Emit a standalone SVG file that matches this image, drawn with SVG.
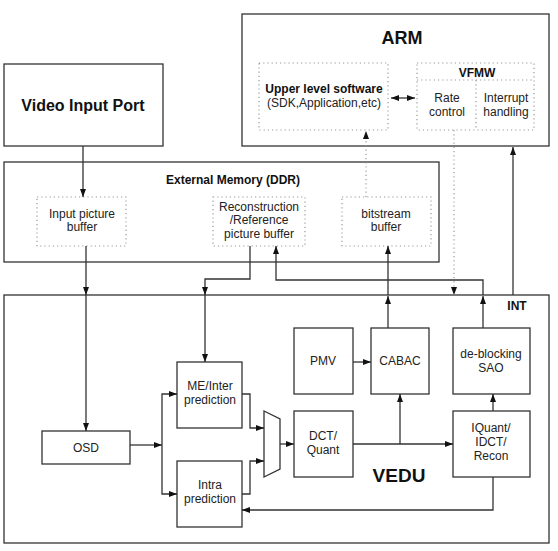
<svg xmlns="http://www.w3.org/2000/svg" width="558" height="551" viewBox="0 0 558 551">
<defs>
<marker id="ah" viewBox="0 0 8 6" refX="8" refY="3" markerWidth="8" markerHeight="6" markerUnits="userSpaceOnUse" orient="auto-start-reverse">
<path d="M0,0 L8,3 L0,6 z" fill="#111"/>
</marker>
<style>
.box{fill:#fff;stroke:#333;stroke-width:1.3}
.dot{fill:none;stroke:#999;stroke-width:1.2;stroke-dasharray:1.2 3}
.ln{fill:none;stroke:#333;stroke-width:1.3}
.dl{fill:none;stroke:#999;stroke-width:1.2;stroke-dasharray:1.2 3}
.t{font-family:"Liberation Sans",Arial,sans-serif;font-size:12px;fill:#222;text-anchor:middle}
.b{font-weight:bold;fill:#111}
</style>
</defs>
<rect width="558" height="551" fill="#fff"/>

<g id="arm">
<rect class="box" x="242" y="14" width="307" height="132"/>
<text class="t b" x="402" y="44" style="font-size:18px">ARM</text>
</g>
<g id="upper-software">
<rect class="dot" x="259" y="63" width="129" height="67"/>
<text class="t b" x="324" y="93">Upper level software</text>
<text class="t" x="324" y="107">(SDK,Application,etc)</text>
</g>
<g id="vfmw">
<rect class="dot" x="417" y="63" width="117" height="67"/>
<line class="dot" x1="417" y1="80" x2="534" y2="80"/>
<line class="dot" x1="476" y1="80" x2="476" y2="130"/>
<text class="t b" x="477" y="77">VFMW</text>
<text class="t" x="447" y="102">Rate</text>
<text class="t" x="447" y="116">control</text>
<text class="t" x="506" y="102">Interrupt</text>
<text class="t" x="506" y="116">handling</text>
</g>
<g id="video-input-port">
<rect class="box" x="4" y="64" width="159" height="82"/>
<text class="t b" x="83" y="111" style="font-size:16px">Video Input Port</text>
</g>
<g id="external-memory">
<rect class="box" x="4" y="162" width="435" height="100"/>
<text class="t b" x="233" y="184">External Memory (DDR)</text>
</g>
<g id="input-buffer">
<rect class="dot" x="37" y="197" width="89" height="49"/>
<text class="t" x="82" y="218">Input picture</text>
<text class="t" x="82" y="231">buffer</text>
</g>
<g id="recon-buffer">
<rect class="dot" x="213" y="197" width="92" height="49"/>
<text class="t" x="259" y="211">Reconstruction</text>
<text class="t" x="259" y="224">/Reference</text>
<text class="t" x="259" y="238">picture buffer</text>
</g>
<g id="bitstream-buffer">
<rect class="dot" x="342" y="197" width="89" height="49"/>
<text class="t" x="386" y="218">bitstream</text>
<text class="t" x="386" y="231">buffer</text>
</g>
<g id="vedu">
<rect class="box" x="4" y="295" width="545" height="248"/>
<text class="t b" x="399" y="482" style="font-size:19px">VEDU</text>
<text class="t b" x="517" y="310">INT</text>
</g>
<g id="osd">
<rect class="box" x="42" y="431" width="88" height="33"/>
<text class="t" x="86" y="452">OSD</text>
</g>
<g id="me-inter">
<rect class="box" x="177" y="362" width="65" height="66"/>
<text class="t" x="210" y="390">ME/Inter</text>
<text class="t" x="210" y="404">prediction</text>
</g>
<g id="intra">
<rect class="box" x="177" y="461" width="65" height="66"/>
<text class="t" x="210" y="489">Intra</text>
<text class="t" x="210" y="503">prediction</text>
</g>
<g id="mux">
<polygon class="box" points="264,411 280,419 280,469 264,477"/>
</g>
<g id="dct">
<rect class="box" x="294" y="411" width="59" height="66"/>
<text class="t" x="323" y="440">DCT/</text>
<text class="t" x="323" y="454">Quant</text>
</g>
<g id="pmv">
<rect class="box" x="294" y="328" width="59" height="66"/>
<text class="t" x="323" y="365">PMV</text>
</g>
<g id="cabac">
<rect class="box" x="371" y="328" width="58" height="66"/>
<text class="t" x="400" y="365">CABAC</text>
</g>
<g id="deblocking">
<rect class="box" x="453" y="328" width="77" height="66"/>
<text class="t" x="491" y="358">de-blocking</text>
<text class="t" x="491" y="372">SAO</text>
</g>
<g id="iquant">
<rect class="box" x="453" y="411" width="77" height="66"/>
<text class="t" x="491" y="432">IQuant/</text>
<text class="t" x="491" y="446">IDCT/</text>
<text class="t" x="491" y="460">Recon</text>
</g>

<g id="connectors">
<line class="ln" x1="391" y1="98" x2="415" y2="98" marker-start="url(#ah)" marker-end="url(#ah)"/>
<line class="dl" x1="366" y1="197" x2="366" y2="131" marker-end="url(#ah)"/>
<line class="dl" x1="454" y1="130" x2="454" y2="295" marker-end="url(#ah)"/>
<line class="ln" x1="513" y1="295" x2="513" y2="147" marker-end="url(#ah)"/>
<line class="ln" x1="83" y1="146" x2="83" y2="197" marker-end="url(#ah)"/>
<line class="ln" x1="86" y1="246" x2="86" y2="295" marker-end="url(#ah)"/>
<line class="ln" x1="86" y1="295" x2="86" y2="431" marker-end="url(#ah)"/>
<path class="ln" d="M250 246 V279 H205 V295" marker-end="url(#ah)"/>
<line class="ln" x1="205" y1="295" x2="205" y2="362" marker-end="url(#ah)"/>
<path class="ln" d="M483 295 V280 H276 V246" marker-end="url(#ah)"/>
<line class="ln" x1="483" y1="328" x2="483" y2="296" marker-end="url(#ah)"/>
<line class="ln" x1="388" y1="328" x2="388" y2="296" marker-end="url(#ah)"/>
<line class="ln" x1="388" y1="295" x2="388" y2="246" marker-end="url(#ah)"/>
<line class="ln" x1="130" y1="445" x2="162" y2="445" marker-end="url(#ah)"/>
<path class="ln" d="M162 445 V394 H177" marker-end="url(#ah)"/>
<path class="ln" d="M162 445 V494 H177" marker-end="url(#ah)"/>
<path class="ln" d="M242 394 H250 V428 H264" marker-end="url(#ah)"/>
<path class="ln" d="M242 494 H250 V461 H264" marker-end="url(#ah)"/>
<line class="ln" x1="280" y1="444" x2="294" y2="444" marker-end="url(#ah)"/>
<line class="ln" x1="353" y1="362" x2="371" y2="362" marker-end="url(#ah)"/>
<line class="ln" x1="353" y1="444" x2="453" y2="444" marker-end="url(#ah)"/>
<line class="ln" x1="400" y1="444" x2="400" y2="394" marker-end="url(#ah)"/>
<line class="ln" x1="493" y1="411" x2="493" y2="394" marker-end="url(#ah)"/>
<path class="ln" d="M493 477 V510 H242" marker-end="url(#ah)"/>
</g>
</svg>
